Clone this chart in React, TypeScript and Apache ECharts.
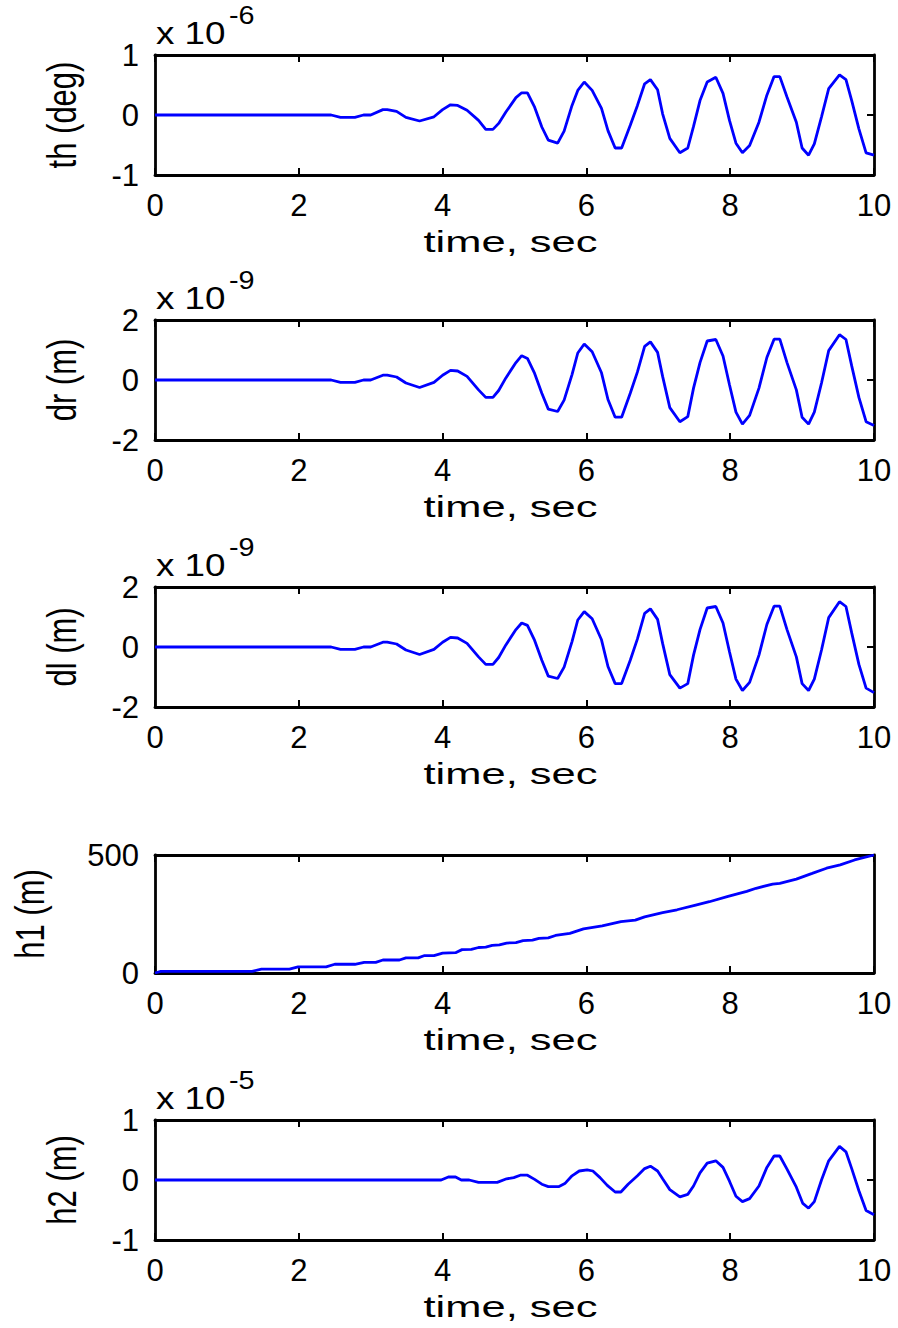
import React, { useEffect, useRef } from "react";
import * as echarts from "echarts";

// ---- data (time in s) ----
const tOsc = [0, 2.45, 2.58, 2.78, 2.9, 3.0, 3.17, 3.23, 3.36, 3.49, 3.68, 3.88, 4.0, 4.11, 4.21, 4.34, 4.5, 4.6, 4.7, 4.78, 4.88, 5.02, 5.1, 5.18, 5.28, 5.38, 5.47, 5.6, 5.69, 5.8, 5.88, 5.97, 6.08, 6.21, 6.3, 6.4, 6.49, 6.61, 6.71, 6.81, 6.89, 6.99, 7.06, 7.16, 7.3, 7.41, 7.49, 7.58, 7.68, 7.8, 7.9, 7.99, 8.08, 8.17, 8.27, 8.4, 8.51, 8.61, 8.69, 8.79, 8.92, 9.0, 9.09, 9.17, 9.27, 9.37, 9.52, 9.61, 9.69, 9.79, 9.89, 10];
// th in units of 1e-6 deg
const thVals = [0, 0, -0.04, -0.04, 0, 0, 0.09, 0.09, 0.06, -0.04, -0.1, -0.03, 0.09, 0.17, 0.16, 0.08, -0.09, -0.24, -0.24, -0.14, 0.05, 0.29, 0.37, 0.37, 0.13, -0.2, -0.42, -0.47, -0.27, 0.16, 0.41, 0.55, 0.41, 0.11, -0.26, -0.55, -0.55, -0.17, 0.16, 0.52, 0.59, 0.42, 0.02, -0.39, -0.63, -0.55, -0.19, 0.24, 0.55, 0.63, 0.36, -0.09, -0.47, -0.63, -0.51, -0.12, 0.33, 0.64, 0.64, 0.3, -0.12, -0.55, -0.67, -0.48, -0.03, 0.44, 0.67, 0.59, 0.24, -0.23, -0.63, -0.67];
// dr in units of 1e-9 m
const drVals = [0, 0, -0.08, -0.08, 0, 0, 0.16, 0.16, 0.1, -0.1, -0.25, -0.08, 0.16, 0.32, 0.3, 0.12, -0.33, -0.58, -0.58, -0.35, 0.07, 0.58, 0.81, 0.72, 0.22, -0.44, -0.97, -1.05, -0.67, 0.18, 0.9, 1.2, 0.94, 0.24, -0.65, -1.24, -1.24, -0.44, 0.27, 1.12, 1.27, 0.92, 0.12, -0.92, -1.39, -1.22, -0.27, 0.58, 1.3, 1.35, 0.8, -0.16, -1.07, -1.47, -1.18, -0.27, 0.75, 1.36, 1.36, 0.58, -0.33, -1.24, -1.47, -1.07, -0.1, 0.98, 1.51, 1.35, 0.47, -0.58, -1.39, -1.52];
// dl in units of 1e-9 m
const dlVals = [0, 0, -0.08, -0.08, 0, 0, 0.16, 0.16, 0.1, -0.1, -0.25, -0.08, 0.16, 0.32, 0.3, 0.12, -0.33, -0.58, -0.58, -0.35, 0.07, 0.58, 0.8, 0.72, 0.22, -0.44, -0.97, -1.05, -0.67, 0.18, 0.9, 1.18, 0.94, 0.24, -0.65, -1.22, -1.22, -0.44, 0.27, 1.12, 1.27, 0.92, 0.12, -0.92, -1.37, -1.22, -0.27, 0.58, 1.3, 1.35, 0.8, -0.16, -1.07, -1.45, -1.18, -0.27, 0.75, 1.36, 1.36, 0.58, -0.33, -1.22, -1.45, -1.07, -0.1, 0.98, 1.51, 1.35, 0.47, -0.58, -1.37, -1.52];
// h1 in m
const tH1 = [0, 0.08, 1.35, 1.48, 1.87, 1.99, 2.38, 2.5, 2.78, 2.91, 3.07, 3.17, 3.4, 3.49, 3.66, 3.75, 3.88, 4.0, 4.18, 4.27, 4.4, 4.5, 4.6, 4.69, 4.79, 4.89, 5.02, 5.12, 5.25, 5.34, 5.47, 5.57, 5.77, 5.96, 6.22, 6.48, 6.68, 6.81, 7.06, 7.26, 7.52, 7.71, 7.97, 8.23, 8.36, 8.59, 8.69, 8.92, 9.14, 9.34, 9.53, 9.73, 10];
const h1Vals = [0, 7, 7, 16, 16, 26, 26, 37, 37, 45, 45, 55, 55, 64, 64, 74, 74, 84, 86, 99, 100, 108, 110, 117, 119, 127, 129, 137, 139, 147, 149, 159, 168, 187, 200, 218, 224, 238, 256, 268, 288, 302, 325, 346, 359, 377, 380, 398, 422, 444, 458, 479, 500];
// h2 in units of 1e-5 m
const tH2 = [0, 3.98, 4.08, 4.18, 4.26, 4.37, 4.5, 4.76, 4.89, 4.99, 5.08, 5.18, 5.28, 5.38, 5.47, 5.62, 5.7, 5.8, 5.9, 6.01, 6.09, 6.19, 6.29, 6.4, 6.48, 6.58, 6.71, 6.81, 6.89, 6.99, 7.06, 7.16, 7.3, 7.41, 7.49, 7.58, 7.68, 7.8, 7.9, 7.99, 8.08, 8.17, 8.27, 8.4, 8.51, 8.61, 8.69, 8.79, 8.92, 9.01, 9.09, 9.17, 9.27, 9.37, 9.52, 9.61, 9.69, 9.79, 9.89, 10];
const h2Vals = [0, 0, 0.05, 0.05, 0, 0, -0.04, -0.04, 0.02, 0.04, 0.08, 0.08, 0.01, -0.07, -0.11, -0.11, -0.06, 0.07, 0.15, 0.17, 0.15, 0.04, -0.09, -0.2, -0.2, -0.07, 0.07, 0.19, 0.23, 0.15, 0.02, -0.16, -0.28, -0.24, -0.1, 0.12, 0.28, 0.32, 0.21, -0.02, -0.27, -0.36, -0.31, -0.1, 0.21, 0.4, 0.4, 0.18, -0.12, -0.39, -0.47, -0.36, 0, 0.32, 0.56, 0.47, 0.19, -0.18, -0.51, -0.58];

const xTicks = { min: 0, max: 10, interval: 2 };
const yLabels = ["th (deg)", "dr (m)", "dl (m)", "h1 (m)", "h2 (m)"];
const yRanges = [
  { min: -1, max: 1, interval: 1 },
  { min: -2, max: 2, interval: 2 },
  { min: -2, max: 2, interval: 2 },
  { min: 0, max: 500, interval: 500 },
  { min: -1, max: 1, interval: 1 },
];
const exponents = ["-6", "-9", "-9", "", "-5"];
const xLabel = "time, sec";

const FONT = "'Liberation Sans', Arial, Helvetica, sans-serif";

export default function App() {
  const ref = useRef<HTMLDivElement>(null);
  useEffect(() => {
    if (!ref.current) return;
    const chart = echarts.init(ref.current, null, { renderer: "svg" });
    const series = [
      { t: tOsc, v: thVals },
      { t: tOsc, v: drVals },
      { t: tOsc, v: dlVals },
      { t: tH1, v: h1Vals },
      { t: tH2, v: h2Vals },
    ];
    const tops = [55, 320, 587, 855, 1120];
    const heights = [120, 120, 120, 118, 120];
    const left = 155;
    const width = 719;
    const yLabelX = [62, 62, 62, 30, 62];

    const grids: any[] = [];
    const xAxes: any[] = [];
    const yAxes: any[] = [];
    const ser: any[] = [];
    const graphics: any[] = [];

    const lineStyle = { color: "#000", width: 2.8 };
    series.forEach((s, i) => {
      grids.push({ left, top: tops[i], width, height: heights[i], containLabel: false });
      const baseX = {
        type: "value",
        gridIndex: i,
        ...xTicks,
        axisLine: { show: true, onZero: false, lineStyle },
        axisTick: { show: true, inside: true, length: 7, lineStyle: { color: "#000", width: 2 } },
        splitLine: { show: false },
      };
      xAxes.push({
        ...baseX,
        position: "bottom",
        axisLabel: { show: true, color: "#000", fontSize: 31, fontFamily: FONT, margin: 15 },
      });
      xAxes.push({ ...baseX, position: "top", axisLabel: { show: false } });
      const baseY = {
        type: "value",
        gridIndex: i,
        ...yRanges[i],
        axisLine: { show: true, onZero: false, lineStyle },
        axisTick: { show: true, inside: true, length: 7, lineStyle: { color: "#000", width: 2 } },
        splitLine: { show: false },
      };
      yAxes.push({
        ...baseY,
        position: "left",
        axisLabel: { show: true, color: "#000", fontSize: 31, fontFamily: FONT, margin: 16 },
      });
      yAxes.push({ ...baseY, position: "right", axisLabel: { show: false } });
      ser.push({
        type: "line",
        xAxisIndex: i * 2,
        yAxisIndex: i * 2,
        data: s.t.map((t, k) => [t, s.v[k]]),
        showSymbol: false,
        symbol: "none",
        lineStyle: { color: "#0000ff", width: 2.8 },
        itemStyle: { color: "#0000ff" },
        clip: true,
      });
      const bottom = tops[i] + heights[i];
      graphics.push({
        type: "text",
        x: left + width / 2 - 4,
        y: bottom + 67,
        scaleX: 1.45,
        style: { text: xLabel, fontSize: 30, fontFamily: FONT, fill: "#000", align: "center", verticalAlign: "middle" },
      });
      graphics.push({
        type: "text",
        x: yLabelX[i],
        y: tops[i] + heights[i] / 2,
        rotation: Math.PI / 2,
        scaleY: 1.3,
        style: { text: yLabels[i], fontSize: 31, fontFamily: FONT, fill: "#000", align: "center", verticalAlign: "middle" },
      });
      if (exponents[i]) {
        graphics.push({
          type: "text",
          x: 156,
          y: tops[i] - 22,
          scaleX: 1.15,
          style: { text: "x 10", fontSize: 32, fontFamily: FONT, fill: "#000", align: "left", verticalAlign: "middle" },
        });
        graphics.push({
          type: "text",
          x: 229,
          y: tops[i] - 39,
          scaleX: 1.15,
          style: { text: exponents[i], fontSize: 25, fontFamily: FONT, fill: "#000", align: "left", verticalAlign: "middle" },
        });
      }
    });

    chart.setOption({
      animation: false,
      backgroundColor: "#fff",
      grid: grids,
      xAxis: xAxes,
      yAxis: yAxes,
      series: ser,
      graphic: graphics,
    });
    return () => chart.dispose();
  }, []);
  return (
    <div
      ref={ref}
      style={{ position: "absolute", left: 0, top: 0, width: 898, height: 1328, background: "#fff" }}
    />
  );
}
